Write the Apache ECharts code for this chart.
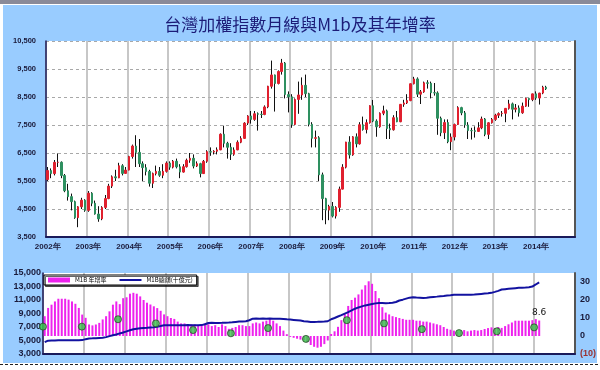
<!DOCTYPE html>
<html><head><meta charset="utf-8">
<script src="https://cdn.jsdelivr.net/npm/echarts@6/dist/echarts.min.js"></script>
<style>html,body{margin:0;padding:0;background:#fff}#c{width:600px;height:370px}</style>
</head><body><div id="c"></div>
<script>
// ---- Data ----
const titleText = '台灣加權指數月線與M1b及其年增率';
const years = [2002,2003,2004,2005,2006,2007,2008,2009,2010,2011,2012,2013,2014];
const topYTicks = [3500,4500,5500,6500,7500,8500,9500,10500];
const bottomLeftTicks = [3000,5000,7000,9000,11000,13000,15000];
const bottomRightTicks = [-10,0,10,20,30];

// TAIEX monthly candles, Jan 2002 - Apr 2014
const candleOpen = [
 5551,5872,5765,6167,6170,5697,5152,4941,4763,4191,4579,4815,
 4452,5064,4706,4321,4148,4555,4872,5318,5651,5611,6045,5771,
 5890,6375,6750,6522,6117,5977,5840,5420,5765,5845,5705,5844,
 6140,5994,6207,6006,5819,6011,6241,6312,6033,6118,5764,6203,
 6548,6532,6562,6613,7171,6846,6704,6455,6611,6883,7021,7567,
 7823,7699,7902,7884,7875,8145,8883,9287,8982,9411,9711,8586,
 8506,7521,8413,8572,8919,8619,7524,7024,7046,5719,4870,4460,
 4591,4248,4557,5210,5993,6890,6432,7078,6826,7509,7340,7582,
 8188,7640,7436,7920,8004,7374,7329,7761,7616,8238,8287,8372,
 8973,9145,8600,8683,9008,8988,8653,8644,7741,7225,7588,6904,
 7072,7517,8121,7933,7502,7301,7296,7270,7397,7715,7166,7580,
 7700,7850,7907,7919,8094,8254,8062,8108,7936,8174,8450,8407,
 8612,8463,8640,8849];
const candleClose = [
 5872,5765,6167,6170,5697,5152,4941,4763,4191,4579,4815,4452,
 5064,4706,4321,4148,4555,4872,5318,5651,5611,6045,5771,5890,
 6375,6750,6522,6117,5977,5840,5420,5765,5845,5705,5844,6140,
 5994,6207,6006,5819,6011,6241,6312,6033,6118,5764,6203,6548,
 6532,6562,6613,7171,6846,6704,6455,6611,6883,7021,7567,7823,
 7699,7902,7884,7875,8145,8883,9287,8982,9411,9711,8586,8506,
 7521,8413,8572,8919,8619,7524,7024,7046,5719,4870,4460,4591,
 4248,4557,5210,5993,6890,6432,7078,6826,7509,7340,7582,8188,
 7640,7436,7920,8004,7374,7329,7761,7616,8238,8287,8372,8973,
 9145,8600,8683,9008,8988,8653,8644,7741,7225,7588,6904,7072,
 7517,8121,7933,7502,7301,7296,7270,7397,7715,7166,7580,7700,
 7850,7907,7919,8094,8254,8062,8108,7936,8174,8450,8407,8612,
 8463,8640,8849,8792];
const candleLow = [
 5500,5600,5700,6000,5600,5100,4800,4450,4150,3850,4500,4400,
 4400,4600,4300,4044,4100,4500,4850,5250,5500,5600,5700,5750,
 5880,6300,6000,6000,5500,5700,5300,5250,5700,5650,5600,5800,
 5900,5950,5950,5600,5800,5980,6150,5950,6000,5630,5750,6150,
 6400,6450,6450,6600,6700,6300,6250,6400,6600,6850,7000,7500,
 7550,7650,7300,7750,7850,8100,8800,7980,8950,9300,8450,7950,
 7400,7500,7900,8400,8500,7450,6700,6700,5500,4100,3955,4100,
 4200,4160,4400,5200,5950,6300,6400,6700,6800,7300,7200,7550,
 7600,7080,7400,7850,7000,7000,7300,7600,7600,8150,8250,8350,
 8950,8500,8250,8650,8800,8450,8550,7150,7100,7000,6850,6600,
 6950,7500,7850,7400,7000,6980,7050,7250,7350,7100,7000,7550,
 7650,7750,7800,7600,8050,7700,7950,7800,7900,8150,8150,8350,
 8400,8230,8600,8750];
const candleHigh = [
 6000,5950,6250,6484,6200,5750,5400,5050,4800,4600,4900,4850,
 5141,5100,4800,4600,4600,5000,5400,5700,5900,6150,6100,6000,
 6400,6800,7135,7000,6200,6100,5900,5800,6050,6000,6100,6200,
 6200,6250,6300,6100,6100,6300,6500,6450,6200,6150,6250,6600,
 6700,6600,6700,7200,7476,6900,6850,6700,6950,7100,7600,7850,
 8000,8000,7950,8000,8200,8900,9800,9300,9450,9860,9750,8700,
 8600,8450,9050,9200,9300,8650,7600,7300,7100,5800,4900,4650,
 4750,4600,5300,6100,6900,7100,7100,7200,7600,7800,7700,8200,
 8395,7700,7950,8190,8050,7550,7850,8000,8250,8400,8600,8980,
 9220,9200,8750,9050,9100,9050,9000,8700,7800,7700,7700,7200,
 7550,8170,8150,8000,7600,7400,7450,7600,7800,7750,7600,7750,
 7900,7950,8000,8100,8400,8300,8250,8200,8300,8480,8450,8620,
 8700,8650,8900,8900];

// M1B YoY growth (%), Jan 2002 - Feb 2014
const m1bGrowth = [
 11,15.6,17.4,19.2,20.7,20.7,20.7,20.2,19.2,17.9,15.6,11.9,
 10.1,6.4,5.9,6.4,7.3,9.2,11,13.7,17.4,19.2,17.7,21,
 21.5,23.5,24,23.5,22,20,18.5,17.5,16.5,15.5,14,12,
 11,10,9.5,8,7,7,6.5,6.5,6.5,6,6.5,7,
 6.5,5.5,6,5,6.5,5.5,4,4.5,5,6,6,5.5,
 5.5,7,7.5,7,8,8.5,9.5,8.5,7,5.5,3,1,
 -0.5,-1,-1.5,-2,-2.5,-3.5,-5,-6,-6.5,-6,-4.5,-2.5,
 1.1,2.6,5.1,8.8,12.1,16.7,20,21.3,23.1,25.8,28.2,30.4,
 29,25,21,16,13,12,11,10.5,10,9.5,9,9,
 9,8.5,8.5,8,8,7.5,7,6.5,6,5,4,3.5,
 3,2.5,3,3.3,2.6,3,3.3,3,3.3,3.9,4.4,4.8,
 4.5,5,4.5,5.5,6.5,7.5,8.5,8.5,8.5,8.5,8.5,8.8,
 9.4,8.6];

// M1B level (NT$ 10 billion), Jan 2002 - Feb 2014
const m1bLevel = [
 4750,4980,5000,5010,5020,5030,5030,5040,5040,5050,5050,5060,
 5200,5300,5320,5350,5380,5400,5500,5650,5790,5900,6050,6190,
 6350,6520,6670,6750,6820,6860,6880,6920,6950,7050,7150,7260,
 7270,7260,7250,7260,7270,7260,7280,7260,7270,7260,7280,7400,
 7600,7620,7600,7610,7620,7640,7660,7700,7750,7800,7820,7850,
 8000,8240,8250,8240,8250,8240,8250,8230,8240,8220,8200,8140,
 8100,8050,8000,7950,7850,7800,7750,7750,7760,7780,7800,7850,
 8150,8330,8550,8750,8980,9200,9450,9710,9900,10050,10200,10300,
 10400,10500,10540,10540,10530,10550,10600,10700,10930,11050,11200,11350,
 11420,11380,11350,11300,11320,11400,11450,11500,11560,11600,11650,11700,
 11770,11760,11770,11780,11760,11770,11800,11850,11900,11950,12000,12060,
 12200,12350,12550,12600,12650,12700,12750,12800,12820,12850,12900,12990,
 13300,13620];

// Green markers: position (months from Jan 2002) and growth value
const dotMonth = [0,11.4,22,33.1,44,55.1,66,77.1,89.1,100,111.1,122,133.1,144];
const dotValue = [5.2,5.2,9.3,7.0,3.3,1.5,4.4,-1.6,8.8,7.0,3.8,1.6,2.6,4.8];

// ---- Build ----
const months = [];
years.forEach(y => { for (let m = 1; m <= 12; m++) months.push(y + '/' + m); });
const wickData = candleOpen.map((o, i) => [o, candleClose[i], candleLow[i], candleHigh[i]]);
const bodyData = candleOpen.map((o, i) => [o, candleClose[i], Math.min(o, candleClose[i]), Math.max(o, candleClose[i])]);
const barData = m1bGrowth.map((v, i) => i === m1bGrowth.length - 1
  ? {value: v, label: {show: true, position: 'top', distance: 3, formatter: '{c}', fontSize: 9, color: '#111', fontFamily: 'DejaVu Sans'}}
  : v);
const dotData = dotMonth.map((m, i) => [m, dotValue[i]]);
const comma = v => String(v).replace(/\B(?=(\d{3})+(?!\d))/g, ',');
const yearFmt = v => v.endsWith('/1') ? v.split('/')[0] + '年' : '';

const axisFont = {fontFamily: 'Liberation Sans', fontWeight: 'bold', color: '#1a1a3a'};

const chart = echarts.init(document.getElementById('c'), null, {renderer: 'canvas'});
chart.setOption({
  animation: false,
  backgroundColor: '#99CCFF',
  title: {text: titleText, left: 'center', top: 16, padding: 0,
    textStyle: {fontFamily: 'Noto Sans CJK TC', fontSize: 17, fontWeight: 'normal', color: '#1c1c78'}},
  graphic: [
    {type: 'rect', shape: {x: 0, y: 0, width: 600, height: 4}, style: {fill: '#8a8a98'}, z: 100},
    {type: 'rect', shape: {x: 0, y: 4, width: 600, height: 1}, style: {fill: '#ffffff'}, z: 100},
    {type: 'rect', shape: {x: 0, y: 4, width: 3, height: 366}, style: {fill: '#ffffff'}, z: 100},
    {type: 'rect', shape: {x: 597, y: 4, width: 3, height: 366}, style: {fill: '#ffffff'}, z: 100},
    {type: 'rect', shape: {x: 0, y: 363, width: 600, height: 7}, style: {fill: '#ffffff'}, z: 100},
    {type: 'line', shape: {x1: 0, y1: 364.5, x2: 600, y2: 364.5}, style: {stroke: '#222', lineWidth: 1, lineDash: [3, 2]}, z: 101}
  ],
  legend: {
    left: 44, top: 275, padding: [2, 4, 2, 4], itemGap: 12, itemWidth: 22, itemHeight: 5,
    backgroundColor: '#fff', borderColor: '#000', borderWidth: 1,
    shadowColor: 'rgba(0,0,0,0.6)', shadowOffsetX: 1.5, shadowOffsetY: 1.5, shadowBlur: 0,
    textStyle: {fontSize: 6, color: '#000', fontFamily: 'Noto Sans CJK TC'},
    data: [
      {name: 'M1B 年增率', icon: 'rect'},
      {name: 'M1B總額(十億元)', itemStyle: {opacity: 0}}
    ]
  },
  grid: [
    {left: 46, right: 25, top: 41, bottom: 133, show: true, backgroundColor: '#fff', borderWidth: 0},
    {left: 43, right: 25, top: 273, bottom: 16, show: true, backgroundColor: '#fff', borderWidth: 0}
  ],
  xAxis: [
    {type: 'category', gridIndex: 0, data: months, boundaryGap: true,
      axisLine: {onZero: false, lineStyle: {color: '#1a1a5a', width: 2}}, axisTick: {show: false},
      axisLabel: {interval: 11, formatter: yearFmt, fontSize: 8, margin: 6, ...axisFont},
      splitLine: {show: true, interval: 11, lineStyle: {color: '#b4b4b4', width: 1.5}}},
    {type: 'category', gridIndex: 1, data: months, boundaryGap: true,
      axisLine: {onZero: false, lineStyle: {color: '#1a1a5a', width: 2}}, axisTick: {show: false},
      axisLabel: {show: false},
      splitLine: {show: true, interval: 11, lineStyle: {color: '#b4b4b4', width: 1.5}}},
    {type: 'value', gridIndex: 1, min: 0, max: months.length, show: false}
  ],
  yAxis: [
    {type: 'value', gridIndex: 0, min: 3500, max: 10500,
      axisLine: {show: true, lineStyle: {color: '#1a1a5a', width: 1.5}}, axisTick: {show: false, customValues: topYTicks},
      axisLabel: {customValues: topYTicks, formatter: comma, fontSize: 7.5, margin: 10, ...axisFont},
      splitLine: {show: true, lineStyle: {color: '#a8a8a8', type: [3, 3], width: 1}}},
    {type: 'value', gridIndex: 0, min: 3500, max: 10500, position: 'right',
      axisLine: {show: true, lineStyle: {color: '#555', width: 2}}, axisTick: {show: false},
      axisLabel: {show: false}, splitLine: {show: false}},
    {type: 'value', gridIndex: 1, min: 3000, max: 15000,
      axisLine: {show: true, lineStyle: {color: '#1a1a5a', width: 1.5}}, axisTick: {show: false, customValues: bottomLeftTicks},
      axisLabel: {customValues: bottomLeftTicks, formatter: comma, fontSize: 9, margin: 2, ...axisFont},
      splitLine: {show: false}},
    {type: 'value', gridIndex: 1, min: -10, max: 35, position: 'right',
      axisLine: {show: true, lineStyle: {color: '#555', width: 2}}, axisTick: {show: false, customValues: bottomRightTicks},
      axisLabel: {customValues: bottomRightTicks, fontSize: 9, margin: 5, ...axisFont,
        formatter: v => v < 0 ? '{neg|(' + (-v) + ')}' : String(v),
        rich: {neg: {color: '#993333', fontSize: 9, fontFamily: 'Liberation Sans', fontWeight: 'bold'}}},
      splitLine: {show: false}}
  ],
  series: [
    {type: 'candlestick', name: 'wick', xAxisIndex: 0, yAxisIndex: 0, data: wickData, barWidth: 1,
      itemStyle: {color: '#111', color0: '#111', borderColor: '#111', borderColor0: '#111', borderWidth: 1}},
    {type: 'candlestick', name: 'body', xAxisIndex: 0, yAxisIndex: 0, data: bodyData, barWidth: 2, z: 3,
      itemStyle: {color: '#e0202e', color0: '#2e9060', borderColor: '#e0202e', borderColor0: '#2e9060', borderWidth: 1}},
    {type: 'bar', name: 'M1B 年增率', xAxisIndex: 1, yAxisIndex: 3, data: barData, barWidth: 2,
      itemStyle: {color: '#ee22ee'}},
    {type: 'line', name: 'M1B總額(十億元)', xAxisIndex: 1, yAxisIndex: 2, data: m1bLevel, symbol: 'none', z: 4,
      lineStyle: {color: '#1212a0', width: 2}, itemStyle: {color: '#1212a0'}},
    {type: 'scatter', name: 'dots', xAxisIndex: 2, yAxisIndex: 3, data: dotData, symbolSize: 7, z: 5,
      itemStyle: {color: '#33cc44', borderColor: '#2a4a2a', borderWidth: 1}}
  ]
});
</script></body></html>
